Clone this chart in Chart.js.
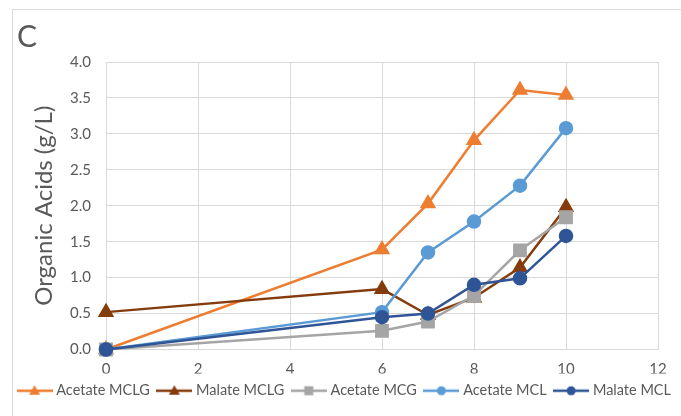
<!DOCTYPE html>
<html>
<head>
<meta charset="utf-8">
<script src="https://cdn.jsdelivr.net/npm/chart.js@4/dist/chart.umd.min.js"></script>
<style>
  html, body { margin: 0; padding: 0; background: #ffffff; }
  #wrap { position: relative; width: 681px; height: 416px; }
</style>
</head>
<body>
<div id="wrap"><canvas id="chart" width="681" height="416"></canvas></div>
<script>
// Sampling days and organic acid concentrations (g/L)
const days = [0, 6, 7, 8, 9, 10];
const acetateMCLG = [0.00, 1.39, 2.03, 2.91, 3.61, 3.54];
const malateMCLG  = [0.52, 0.84, 0.48, 0.72, 1.14, 1.98];
const acetateMCG  = [0.00, 0.26, 0.39, 0.75, 1.38, 1.84];
const acetateMCL  = [0.00, 0.52, 1.35, 1.78, 2.28, 3.08];
const malateMCL   = [0.00, 0.45, 0.50, 0.90, 0.99, 1.58];

const seriesNames = ['Acetate MCLG', 'Malate MCLG', 'Acetate MCG', 'Acetate MCL', 'Malate MCL'];
const xTicks = [0, 2, 4, 6, 8, 10, 12];
const yTicks = [0, 0.5, 1, 1.5, 2, 2.5, 3, 3.5, 4];

const FONT = 'Lato, "Liberation Sans", sans-serif';
const TEXT = '#595959';
const GRID = '#d9d9d9';

const styles = [
  { color: '#ED7D31', marker: 'triangle', r: 7 },
  { color: '#843C0C', marker: 'triangle', r: 7 },
  { color: '#A5A5A5', marker: 'rect', r: 8 },
  { color: '#5B9BD5', marker: 'circle', r: 6 },
  { color: '#2F5597', marker: 'circle', r: 6 }
];
const seriesValues = [acetateMCLG, malateMCLG, acetateMCG, acetateMCL, malateMCL];

// Small legend glyph: line segment with the series marker in the middle
function legendGlyph(color, marker) {
  const c = document.createElement('canvas');
  c.width = 36; c.height = 14;
  const g = c.getContext('2d');
  g.strokeStyle = color; g.lineWidth = 2.5;
  g.beginPath(); g.moveTo(0, 7); g.lineTo(36, 7); g.stroke();
  g.fillStyle = color;
  const cx = 18, cy = 7;
  g.beginPath();
  if (marker === 'triangle') {
    g.moveTo(cx, cy - 5.5); g.lineTo(cx + 5.5, cy + 4); g.lineTo(cx - 5.5, cy + 4); g.closePath();
  } else if (marker === 'rect') {
    g.rect(cx - 4.5, cy - 4.5, 9, 9);
  } else {
    g.arc(cx, cy, 4.5, 0, Math.PI * 2);
  }
  g.fill();
  return c;
}

const datasets = seriesNames.map((name, i) => ({
  label: name,
  data: days.map((d, k) => ({ x: d, y: seriesValues[i][k] })),
  borderColor: styles[i].color,
  backgroundColor: styles[i].color,
  pointBackgroundColor: styles[i].color,
  pointBorderColor: styles[i].color,
  pointStyle: styles[i].marker,
  pointRadius: styles[i].r,
  pointHoverRadius: styles[i].r,
  borderWidth: 2.5,
  tension: 0,
  clip: false,
  order: seriesNames.length - i,
  legendGlyph: legendGlyph(styles[i].color, styles[i].marker)
}));

// Panel frame and the panel letter
const framePlugin = {
  id: 'frame',
  beforeDraw(chart) {
    const ctx = chart.ctx;
    ctx.save();
    ctx.strokeStyle = GRID;
    ctx.lineWidth = 1;
    ctx.beginPath();
    ctx.moveTo(12.5, 416); ctx.lineTo(12.5, 9.5); ctx.lineTo(681, 9.5);
    ctx.stroke();
    ctx.fillStyle = TEXT;
    ctx.font = '30px ' + FONT;
    ctx.textBaseline = 'alphabetic';
    ctx.fillText('C', 17, 47);
    ctx.restore();
  }
};

new Chart(document.getElementById('chart'), {
  type: 'line',
  data: { datasets },
  plugins: [framePlugin],
  options: {
    responsive: false,
    animation: false,
    layout: { padding: { left: 10, right: 0, top: 62, bottom: 8 } },
    plugins: {
      tooltip: { enabled: false },
      legend: {
        position: 'bottom',
        labels: {
          color: TEXT,
          font: { family: FONT, size: 14.5 },
          usePointStyle: true,
          pointStyleWidth: 29,
          boxHeight: 14,
          padding: 10,
          sort: (a, b) => a.datasetIndex - b.datasetIndex,
          generateLabels(chart) {
            return chart.data.datasets.map((ds, i) => ({
              text: ds.label,
              fillStyle: ds.borderColor,
              strokeStyle: ds.borderColor,
              fontColor: TEXT,
              lineWidth: 0,
              pointStyle: ds.legendGlyph,
              hidden: false,
              datasetIndex: i
            }));
          }
        }
      }
    },
    scales: {
      x: {
        type: 'linear',
        min: 0, max: 12,
        afterBuildTicks(scale) { scale.ticks = xTicks.map(v => ({ value: v })); },
        afterFit(scale) { scale.height = 24; },
        ticks: { color: TEXT, font: { family: FONT, size: 15 }, padding: 11 },
        grid: { color: GRID, lineWidth: 1, drawTicks: false },
        border: { color: GRID }
      },
      y: {
        min: 0, max: 4,
        afterBuildTicks(scale) { scale.ticks = yTicks.map(v => ({ value: v })); },
        afterFit(scale) { scale.width = 96; },
        ticks: {
          color: TEXT, font: { family: FONT, size: 15 }, padding: 15,
          callback: v => Number(v).toFixed(1)
        },
        grid: { color: GRID, lineWidth: 1, drawTicks: false },
        border: { color: GRID },
        title: {
          display: true,
          text: 'Organic Acids (g/L)',
          color: TEXT,
          font: { family: FONT, size: 24 },
          padding: { top: 20, bottom: 0 }
        }
      },
      // empty right-hand gutter beside the plot
      gutter: {
        type: 'linear',
        position: 'right',
        display: true,
        min: 0, max: 4,
        afterFit(scale) { scale.width = 23; },
        ticks: { display: false },
        grid: { display: false, drawOnChartArea: false },
        border: { display: false }
      }
    }
  }
});
</script>
</body>
</html>
